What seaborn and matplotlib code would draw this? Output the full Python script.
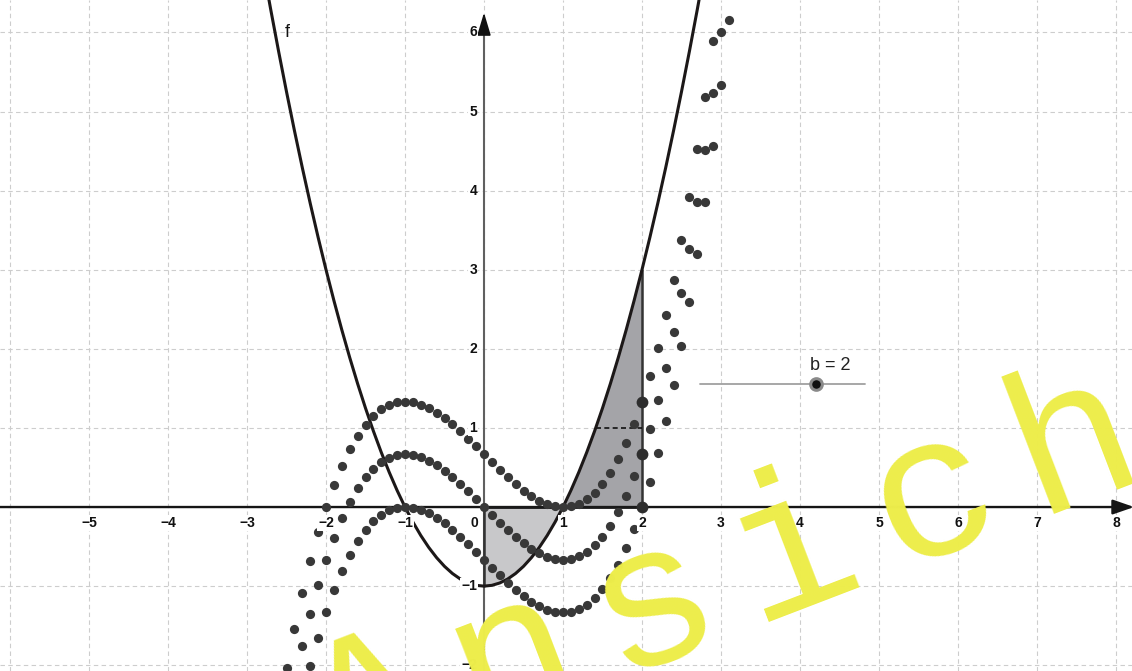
import numpy as np
import pandas as pd
import matplotlib
matplotlib.use('Agg')
import matplotlib.pyplot as plt
import seaborn as sns

# sample positions (step 0.1) shared by the curve f and the three dotted sequences
x_vals = [-2.8, -2.7, -2.6, -2.5, -2.4, -2.3, -2.2, -2.1, -2.0, -1.9,
          -1.8, -1.7, -1.6, -1.5, -1.4, -1.3, -1.2, -1.1, -1.0, -0.9,
          -0.8, -0.7, -0.6, -0.5, -0.4, -0.3, -0.2, -0.1, 0.0, 0.1,
          0.2, 0.3, 0.4, 0.5, 0.6, 0.7, 0.8, 0.9, 1.0, 1.1,
          1.2, 1.3, 1.4, 1.5, 1.6, 1.7, 1.8, 1.9, 2.0, 2.1,
          2.2, 2.3, 2.4, 2.5, 2.6, 2.7, 2.8, 2.9, 3.0, 3.1]

# f (parabola)
f_vals = [6.84, 6.29, 5.76, 5.25, 4.76, 4.29, 3.84, 3.41, 3.00, 2.61,
          2.24, 1.89, 1.56, 1.25, 0.96, 0.69, 0.44, 0.21, 0.00, -0.19,
          -0.36, -0.51, -0.64, -0.75, -0.84, -0.91, -0.96, -0.99, -1.00, -0.99,
          -0.96, -0.91, -0.84, -0.75, -0.64, -0.51, -0.36, -0.19, 0.00, 0.21,
          0.44, 0.69, 0.96, 1.25, 1.56, 1.89, 2.24, 2.61, 3.00, 3.41,
          3.84, 4.29, 4.76, 5.25, 5.76, 6.29, 6.84, 7.41, 8.00, 8.61]

# dotted sequences
upper_vals = [-3.850, -3.194, -2.592, -2.041, -1.541, -1.089, -0.682, -0.320, 0.000, 0.281,
              0.523, 0.729, 0.902, 1.042, 1.152, 1.235, 1.291, 1.323, 1.333, 1.324,
              1.296, 1.253, 1.195, 1.125, 1.046, 0.958, 0.864, 0.766, 0.667, 0.567,
              0.470, 0.376, 0.288, 0.208, 0.139, 0.081, 0.037, 0.010, 0.000, 0.010,
              0.043, 0.099, 0.182, 0.292, 0.432, 0.605, 0.811, 1.053, 1.333, 1.654,
              2.016, 2.422, 2.875, 3.375, 3.925, 4.528, 5.184, 5.896, 6.667, 7.497]
mid_vals = [-4.517, -3.861, -3.259, -2.708, -2.208, -1.756, -1.349, -0.987, -0.667, -0.386,
            -0.144, 0.062, 0.235, 0.375, 0.485, 0.568, 0.624, 0.656, 0.667, 0.657,
            0.629, 0.586, 0.528, 0.458, 0.379, 0.291, 0.197, 0.100, 0.000, -0.100,
            -0.197, -0.291, -0.379, -0.458, -0.528, -0.586, -0.629, -0.657, -0.667, -0.656,
            -0.624, -0.568, -0.485, -0.375, -0.235, -0.062, 0.144, 0.386, 0.667, 0.987,
            1.349, 1.756, 2.208, 2.708, 3.259, 3.861, 4.517, 5.230, 6.000, 6.830]
lower_vals = [-5.184, -4.528, -3.925, -3.375, -2.875, -2.422, -2.016, -1.654, -1.333, -1.053,
              -0.811, -0.605, -0.432, -0.292, -0.182, -0.099, -0.043, -0.010, 0.000, -0.010,
              -0.037, -0.081, -0.139, -0.208, -0.288, -0.376, -0.470, -0.567, -0.667, -0.766,
              -0.864, -0.958, -1.046, -1.125, -1.195, -1.253, -1.296, -1.324, -1.333, -1.323,
              -1.291, -1.235, -1.152, -1.042, -0.902, -0.729, -0.523, -0.281, 0.000, 0.320,
              0.682, 1.089, 1.541, 2.041, 2.592, 3.194, 3.850, 4.563, 5.333, 6.163]

b_value = 2
dash_level = 1
x_tick_labels = [-5, -4, -3, -2, -1, 1, 2, 3, 4, 5, 6, 7, 8]
y_tick_labels = [-2, -1, 1, 2, 3, 4, 5, 6]
watermark = 'Ansicht'

sns.set_theme(style='white')
plt.rcParams['font.family'] = ['Liberation Sans', 'DejaVu Sans']

fig = plt.figure(figsize=(11.32, 6.71), dpi=100)
ax = fig.add_axes([0, 0, 1, 1])
ax.set_xlim(-6.127, 8.203)
ax.set_ylim(-2.073, 6.41)

# grid
ax.set_xticks(range(-6, 9))
ax.set_yticks(range(-2, 7))
ax.tick_params(length=0, labelbottom=False, labelleft=False)
ax.grid(True, color='#cdcdcd', ls=(0, (4, 3)), lw=0.8)
ax.set_axisbelow(True)
for sp in ax.spines.values():
    sp.set_visible(False)

x = np.array(x_vals)
f = np.array(f_vals)

# shaded areas between f and the x-axis
m1 = (x >= 0) & (x <= 1)
m2 = (x >= 1) & (x <= b_value)
ax.fill_between(x[m1], f[m1], 0, color='#c8c8ca', lw=0, zorder=1)
ax.fill_between(x[m2], f[m2], 0, color='#a4a4a8', lw=0, zorder=1)

# axes with arrows
ax.annotate('', xy=(8.23, 0), xytext=(-6.2, 0), annotation_clip=False,
            arrowprops=dict(arrowstyle='-|>,head_length=1.3,head_width=0.45', mutation_scale=10,
                            color='#151515', lw=1.7, shrinkA=0, shrinkB=0), zorder=2)
ax.plot([0, 0], [-2.2, 6.1], color='#606060', lw=1.5, zorder=2)
ax.annotate('', xy=(0, 6.25), xytext=(0, 6.0), annotation_clip=False,
            arrowprops=dict(arrowstyle='-|>,head_length=1.4,head_width=0.42', mutation_scale=10,
                            color='#111111', lw=1.2, shrinkA=0, shrinkB=0), zorder=2)
ax.plot([0, b_value], [0, 0], color='#1a1a1a', lw=2.0, zorder=3)
ax.plot([0, 0], [0, f[x == 0][0]], color='#333333', lw=1.8, zorder=3)
ax.plot([b_value, b_value], [0, f[np.isclose(x, b_value)][0]], color='#333333', lw=1.8, zorder=3)

# dashed helper segment
pos = x > 0
x_start = np.interp(dash_level, f[pos], x[pos])
ax.plot([x_start, b_value], [dash_level, dash_level], color='#111111', lw=1.2,
        ls=(0, (3, 2)), zorder=3)

# parabola f
sns.lineplot(x=x_vals, y=f_vals, sort=False, estimator=None, color='#1c1818', lw=2.2,
             ax=ax, zorder=4)
ax.text(-2.49, 6.0, 'f', fontsize=13, ha='center', va='center', color='#111111', zorder=6)

# dotted sequences
dots = pd.DataFrame({'x': x_vals * 3, 'y': upper_vals + mid_vals + lower_vals})
sns.scatterplot(data=dots, x='x', y='y', color='#383838', s=44, linewidth=0, ax=ax, zorder=5)
at_b = dots[np.isclose(dots['x'], b_value)]
sns.scatterplot(data=at_b, x='x', y='y', color='#2e2e2e', s=72, linewidth=0, ax=ax, zorder=5)
ax.set_xlabel('')
ax.set_ylabel('')

# tick labels
lab = dict(fontsize=10, fontweight='bold', color='#111111', textcoords='offset points',
           bbox=dict(fc='white', ec='none', pad=0.6), zorder=6)
for t in x_tick_labels:
    ax.annotate(str(t).replace('-', '\u2212'), (t, 0), xytext=(0, -6.5), ha='center', va='top', **lab)
for t in y_tick_labels:
    ax.annotate(str(t).replace('-', '\u2212'), (0, t), xytext=(-5, 0), ha='right', va='center', **lab)
ax.annotate('0', (0, 0), xytext=(-4.5, -6.5), ha='right', va='top', **lab)

# slider b
ax.plot([2.734, 4.82], [1.557, 1.557], color='#a0a0a0', lw=1.3, zorder=5)
ax.scatter([4.2], [1.557], s=70, color='#111111', edgecolor='#8a8a8a', linewidth=2.2, zorder=6)
ax.text(4.38, 1.783, f'b = {b_value}', fontsize=13, ha='center', va='center', color='#222222', zorder=6)

# watermark, letters spaced along a rotated baseline
angle = 21
adv = 108  # points between letters
mid = (len(watermark) - 1) / 2
for k, ch in enumerate(watermark):
    dx = (k - mid) * adv * np.cos(np.radians(angle))
    dy = (k - mid) * adv * np.sin(np.radians(angle))
    ax.annotate(ch, (4.15, -1.176), xytext=(dx, dy), textcoords='offset points',
                fontsize=146, family='Liberation Mono', color='#EDED4B', rotation=angle,
                rotation_mode='anchor', ha='center', va='baseline', zorder=20,
                annotation_clip=False)

fig.savefig('out.png', dpi=100)
